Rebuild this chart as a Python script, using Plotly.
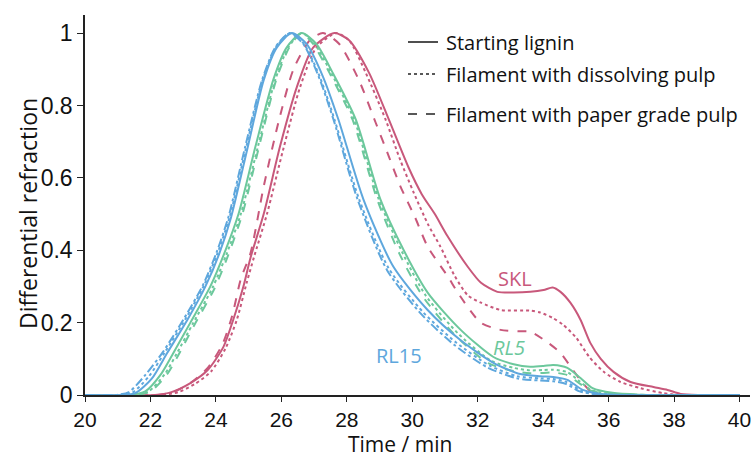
import plotly.graph_objects as go

# ---------------- data ----------------
skl_start_t = [22.14, 22.64, 23.22, 23.75, 24.23, 24.53, 24.84, 25.06, 25.46, 25.96, 26.47, 26.97, 27.62, 28.07, 28.68, 29.28, 29.88, 30.29, 30.69, 31.07, 31.69, 32.1, 32.6, 33.1, 33.61, 34.01, 34.29, 34.53, 34.83, 35.14, 35.44, 35.76, 36.15, 36.67, 37.37, 37.8, 38.2, 38.73]
skl_start_v = [0, 0.008, 0.033, 0.069, 0.133, 0.208, 0.30, 0.38, 0.50, 0.687, 0.85, 0.96, 1.0, 0.98, 0.89, 0.762, 0.63, 0.555, 0.50, 0.44, 0.355, 0.31, 0.285, 0.283, 0.285, 0.29, 0.297, 0.285, 0.255, 0.208, 0.144, 0.10, 0.064, 0.036, 0.022, 0.014, 0.003, 0]

skl_diss_t = [22.34, 22.85, 23.35, 23.85, 24.3, 24.64, 24.94, 25.16, 25.56, 26.06, 26.57, 27.07, 27.67, 28.07, 28.58, 29.18, 29.63, 30.04, 30.49, 30.86, 31.29, 31.7, 32.1, 32.7, 33.61, 33.91, 34.29, 34.61, 35.01, 35.41, 35.85, 36.36, 36.97, 37.67, 38.23]
skl_diss_v = [0, 0.008, 0.03, 0.065, 0.13, 0.208, 0.31, 0.38, 0.50, 0.68, 0.85, 0.96, 1.0, 0.98, 0.89, 0.762, 0.65, 0.56, 0.47, 0.41, 0.33, 0.275, 0.255, 0.235, 0.233, 0.228, 0.213, 0.194, 0.158, 0.105, 0.064, 0.036, 0.019, 0.005, 0]

skl_paper_t = [22.24, 22.74, 23.25, 23.75, 24.2, 24.5, 24.76, 25.06, 25.46, 25.91, 26.37, 26.87, 27.27, 27.77, 28.37, 28.88, 29.28, 29.64, 30.09, 30.47, 31.09, 31.39, 32.09, 32.7, 33.3, 33.61, 34.11, 34.53, 34.91, 35.21, 35.51, 35.92]
skl_paper_v = [0, 0.01, 0.035, 0.075, 0.14, 0.22, 0.32, 0.393, 0.576, 0.753, 0.90, 0.98, 1.0, 0.97, 0.87, 0.753, 0.66, 0.576, 0.49, 0.41, 0.327, 0.283, 0.20, 0.18, 0.176, 0.175, 0.147, 0.116, 0.069, 0.033, 0.006, 0]

rl5_start_t = [21.34, 21.84, 22.34, 22.7, 23.22, 23.83, 24.25, 24.69, 25.21, 25.76, 26.16, 26.62, 27.07, 27.57, 28.27, 29.03, 29.74, 30.47, 31.48, 32.48, 33.1, 33.6, 34.01, 34.31, 34.74, 35.14, 35.51, 36.12, 36.92, 37.53]
rl5_start_v = [0, 0.01, 0.06, 0.116, 0.20, 0.30, 0.39, 0.50, 0.687, 0.873, 0.96, 1.0, 0.97, 0.89, 0.762, 0.54, 0.40, 0.283, 0.18, 0.105, 0.085, 0.078, 0.08, 0.083, 0.075, 0.047, 0.019, 0.006, 0.001, 0]

rl5_diss_t = [21.44, 21.94, 22.44, 22.8, 23.3, 23.9, 24.32, 24.76, 25.28, 25.81, 26.21, 26.62, 27.02, 27.52, 28.22, 28.98, 29.69, 30.41, 31.4, 32.4, 33.1, 33.6, 34.01, 34.31, 34.74, 35.11, 35.46, 36.02, 36.82, 37.43]
rl5_diss_v = [0, 0.01, 0.058, 0.114, 0.198, 0.297, 0.388, 0.50, 0.685, 0.87, 0.96, 1.0, 0.97, 0.89, 0.762, 0.54, 0.395, 0.275, 0.17, 0.095, 0.075, 0.068, 0.069, 0.07, 0.063, 0.038, 0.014, 0.004, 0.001, 0]

rl5_paper_t = [21.49, 21.99, 22.49, 22.85, 23.35, 23.95, 24.37, 24.81, 25.31, 25.84, 26.24, 26.62, 26.97, 27.47, 28.17, 28.93, 29.61, 30.34, 31.31, 32.32, 33.1, 33.6, 34.01, 34.31, 34.74, 35.11, 35.46, 36.02, 36.82, 37.43]
rl5_paper_v = [0, 0.009, 0.055, 0.11, 0.195, 0.293, 0.385, 0.50, 0.683, 0.87, 0.96, 1.0, 0.97, 0.89, 0.762, 0.54, 0.39, 0.27, 0.165, 0.088, 0.066, 0.06, 0.061, 0.062, 0.055, 0.032, 0.012, 0.003, 0.001, 0]

rl15_start_t = [21.13, 21.54, 22.04, 22.51, 23.13, 23.68, 24.1, 24.46, 24.96, 25.46, 25.86, 26.32, 26.77, 27.27, 27.74, 28.51, 29.42, 30.47, 31.47, 32.48, 33.3, 33.91, 34.31, 34.74, 35.21, 35.76, 36.42]
rl15_start_v = [0, 0.005, 0.045, 0.116, 0.208, 0.30, 0.39, 0.49, 0.68, 0.87, 0.96, 1.0, 0.97, 0.88, 0.762, 0.54, 0.355, 0.235, 0.152, 0.089, 0.058, 0.052, 0.05, 0.042, 0.014, 0.003, 0]

rl15_diss_t = [21.04, 21.44, 21.94, 22.44, 23.07, 23.63, 24.05, 24.42, 24.92, 25.43, 25.83, 26.27, 26.69, 27.17, 27.62, 28.38, 29.28, 30.34, 31.34, 32.35, 33.2, 33.91, 34.31, 34.71, 35.16, 35.67, 36.22]
rl15_diss_v = [0, 0.006, 0.05, 0.118, 0.21, 0.302, 0.392, 0.492, 0.682, 0.87, 0.96, 1.0, 0.97, 0.88, 0.762, 0.54, 0.35, 0.228, 0.145, 0.082, 0.052, 0.046, 0.044, 0.036, 0.012, 0.002, 0]

rl15_paper_t = [20.93, 21.34, 21.84, 22.39, 23.03, 23.6, 24.02, 24.39, 24.89, 25.41, 25.81, 26.25, 26.67, 27.14, 27.59, 28.33, 29.23, 30.29, 31.29, 32.3, 33.2, 33.91, 34.31, 34.71, 35.11, 35.62, 36.12]
rl15_paper_v = [0, 0.008, 0.055, 0.12, 0.212, 0.303, 0.394, 0.494, 0.684, 0.87, 0.96, 1.0, 0.97, 0.88, 0.762, 0.54, 0.345, 0.222, 0.138, 0.076, 0.046, 0.04, 0.038, 0.03, 0.01, 0.002, 0]

x_ticks = [20, 22, 24, 26, 28, 30, 32, 34, 36, 38, 40]
y_ticks = [0, 0.2, 0.4, 0.6, 0.8, 1]
y_tick_labels = ["0", "0.2", "0.4", "0.6", "0.8", "1"]

legend_labels = ["Starting lignin", "Filament with dissolving pulp", "Filament with paper grade pulp"]
curve_labels = ["SKL", "RL5", "RL15"]

# ---------------- styling ----------------
RED = "#c8587b"
GREEN = "#6cc89c"
BLUE = "#5ea7dd"

series = [
    (skl_start_t, skl_start_v, RED, "solid"),
    (skl_diss_t, skl_diss_v, RED, "dot"),
    (skl_paper_t, skl_paper_v, RED, "dash"),
    (rl5_start_t, rl5_start_v, GREEN, "solid"),
    (rl5_diss_t, rl5_diss_v, GREEN, "dot"),
    (rl5_paper_t, rl5_paper_v, GREEN, "dash"),
    (rl15_start_t, rl15_start_v, BLUE, "solid"),
    (rl15_diss_t, rl15_diss_v, BLUE, "dot"),
    (rl15_paper_t, rl15_paper_v, BLUE, "dashdot"),
]

fig = go.Figure()
for t, v, c, d in series:
    fig.add_trace(go.Scatter(
        x=[20] + t + [40], y=[0] + v + [0], mode="lines",
        line=dict(color=c, width=2, dash=d, shape="spline", smoothing=0.7),
        showlegend=False, hoverinfo="skip"))

XTICKFONT = dict(family="Liberation Sans, Arial, sans-serif", size=21, color="#111")
YTICKFONT = dict(family="Liberation Sans, Arial, sans-serif", size=23, color="#111")
TEXTFONT = "Open Sans, Noto Sans, sans-serif"

L, R, T, B = 85, 6, 15, 62
PW, PH = 756 - L - R, 457 - T - B

fig.update_layout(
    width=756, height=457,
    margin=dict(l=L, r=R, t=T, b=B),
    paper_bgcolor="white", plot_bgcolor="white",
    showlegend=False,
    xaxis=dict(range=[20, 40.32], tickvals=x_ticks, ticktext=[str(v) for v in x_ticks],
               showgrid=False, zeroline=False, showline=True, linecolor="#222", linewidth=1.5,
               ticks="outside", ticklen=5, tickwidth=1.2, tickcolor="#222", tickfont=XTICKFONT),
    yaxis=dict(range=[0, 1.05], tickvals=y_ticks, ticktext=y_tick_labels,
               showgrid=False, zeroline=False, showline=True, linecolor="#222", linewidth=1.5,
               ticks="outside", ticklen=6, tickwidth=1.2, tickcolor="#222", tickfont=YTICKFONT),
)

def px_x(px):
    return (px - L) / PW

def px_y(py):
    return (457 - B - py) / PH

# axis titles
fig.add_annotation(text="Time / min", xref="paper", yref="paper", x=px_x(400), y=px_y(444),
                   showarrow=False, font=dict(family=TEXTFONT, size=21, color="#111"),
                   xanchor="center", yanchor="middle")
fig.add_annotation(text="Differential refraction", xref="paper", yref="paper", x=px_x(28), y=px_y(214),
                   textangle=-90, showarrow=False, font=dict(family=TEXTFONT, size=23, color="#111"),
                   xanchor="center", yanchor="middle")

# custom legend (line samples + text)
leg_dash = ["solid", "dot", "dash"]
leg_y = [42, 74, 114]
for lab, d, py in zip(legend_labels, leg_dash, leg_y):
    fig.add_shape(type="line", xref="paper", yref="paper",
                  x0=px_x(408), x1=px_x(438), y0=px_y(py), y1=px_y(py),
                  line=dict(color="#222", width=1.6, dash=d))
    fig.add_annotation(text=lab, xref="paper", yref="paper", x=px_x(444), y=px_y(py),
                       showarrow=False, xanchor="left", yanchor="middle",
                       font=dict(family=TEXTFONT, size=20, color="#111"))

# curve labels
fig.add_annotation(text=curve_labels[0], x=33.15, y=0.323, showarrow=False,
                   font=dict(family=TEXTFONT, size=20, color=RED))
fig.add_annotation(text="<i>" + curve_labels[1] + "</i>", x=32.97, y=0.13, showarrow=False,
                   font=dict(family=TEXTFONT, size=20, color=GREEN))
fig.add_annotation(text=curve_labels[2], x=29.58, y=0.11, showarrow=False,
                   font=dict(family=TEXTFONT, size=20, color=BLUE))

fig.write_html("out.html")
